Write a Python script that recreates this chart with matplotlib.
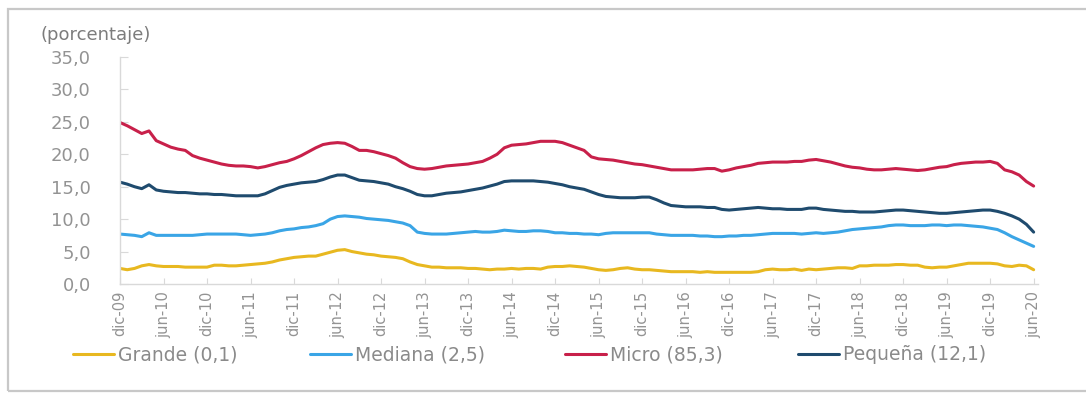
"""
Tasa de morosidad por tamaño de empresa, dic-09 a jun-20 (datos mensuales).
"""

import matplotlib

matplotlib.use("Agg")

import matplotlib.pyplot as plt
import numpy as np
from matplotlib.patches import Rectangle

# --- data (porcentaje), monthly from dic-09 to jun-20 -----------------------
grande = [
    2.4, 2.2, 2.4, 2.8, 3.0, 2.8, 2.7, 2.7, 2.7, 2.6, 2.6, 2.6,
    2.6, 2.9, 2.9, 2.8, 2.8, 2.9, 3.0, 3.1, 3.2, 3.4, 3.7, 3.9,
    4.1, 4.2, 4.3, 4.3, 4.6, 4.9, 5.2, 5.3, 5.0, 4.8, 4.6, 4.5,
    4.3, 4.2, 4.1, 3.9, 3.4, 3.0, 2.8, 2.6, 2.6, 2.5, 2.5, 2.5,
    2.4, 2.4, 2.3, 2.2, 2.3, 2.3, 2.4, 2.3, 2.4, 2.4, 2.3, 2.6,
    2.7, 2.7, 2.8, 2.7, 2.6, 2.4, 2.2, 2.1, 2.2, 2.4, 2.5, 2.3,
    2.2, 2.2, 2.1, 2.0, 1.9, 1.9, 1.9, 1.9, 1.8, 1.9, 1.8, 1.8,
    1.8, 1.8, 1.8, 1.8, 1.9, 2.2, 2.3, 2.2, 2.2, 2.3, 2.1, 2.3,
    2.2, 2.3, 2.4, 2.5, 2.5, 2.4, 2.8, 2.8, 2.9, 2.9, 2.9, 3.0,
    3.0, 2.9, 2.9, 2.6, 2.5, 2.6, 2.6, 2.8, 3.0, 3.2, 3.2, 3.2,
    3.2, 3.1, 2.8, 2.7, 2.9, 2.8, 2.2,
]
mediana = [
    7.7, 7.6, 7.5, 7.3, 7.9, 7.5, 7.5, 7.5, 7.5, 7.5, 7.5, 7.6,
    7.7, 7.7, 7.7, 7.7, 7.7, 7.6, 7.5, 7.6, 7.7, 7.9, 8.2, 8.4,
    8.5, 8.7, 8.8, 9.0, 9.3, 10.0, 10.4, 10.5, 10.4, 10.3, 10.1, 10.0,
    9.9, 9.8, 9.6, 9.4, 9.0, 8.0, 7.8, 7.7, 7.7, 7.7, 7.8, 7.9,
    8.0, 8.1, 8.0, 8.0, 8.1, 8.3, 8.2, 8.1, 8.1, 8.2, 8.2, 8.1,
    7.9, 7.9, 7.8, 7.8, 7.7, 7.7, 7.6, 7.8, 7.9, 7.9, 7.9, 7.9,
    7.9, 7.9, 7.7, 7.6, 7.5, 7.5, 7.5, 7.5, 7.4, 7.4, 7.3, 7.3,
    7.4, 7.4, 7.5, 7.5, 7.6, 7.7, 7.8, 7.8, 7.8, 7.8, 7.7, 7.8,
    7.9, 7.8, 7.9, 8.0, 8.2, 8.4, 8.5, 8.6, 8.7, 8.8, 9.0, 9.1,
    9.1, 9.0, 9.0, 9.0, 9.1, 9.1, 9.0, 9.1, 9.1, 9.0, 8.9, 8.8,
    8.6, 8.4, 7.9, 7.3, 6.8, 6.3, 5.8,
]
micro = [
    24.9, 24.4, 23.8, 23.2, 23.6, 22.1, 21.6, 21.1, 20.8, 20.6, 19.8, 19.4,
    19.1, 18.8, 18.5, 18.3, 18.2, 18.2, 18.1, 17.9, 18.1, 18.4, 18.7, 18.9,
    19.3, 19.8, 20.4, 21.0, 21.5, 21.7, 21.8, 21.7, 21.2, 20.6, 20.6, 20.4,
    20.1, 19.8, 19.4, 18.7, 18.1, 17.8, 17.7, 17.8, 18.0, 18.2, 18.3, 18.4,
    18.5, 18.7, 18.9, 19.4, 20.0, 21.0, 21.4, 21.5, 21.6, 21.8, 22.0, 22.0,
    22.0, 21.8, 21.4, 21.0, 20.6, 19.6, 19.3, 19.2, 19.1, 18.9, 18.7, 18.5,
    18.4, 18.2, 18.0, 17.8, 17.6, 17.6, 17.6, 17.6, 17.7, 17.8, 17.8, 17.4,
    17.6, 17.9, 18.1, 18.3, 18.6, 18.7, 18.8, 18.8, 18.8, 18.9, 18.9, 19.1,
    19.2, 19.0, 18.8, 18.5, 18.2, 18.0, 17.9, 17.7, 17.6, 17.6, 17.7, 17.8,
    17.7, 17.6, 17.5, 17.6, 17.8, 18.0, 18.1, 18.4, 18.6, 18.7, 18.8, 18.8,
    18.9, 18.6, 17.6, 17.3, 16.8, 15.8, 15.1,
]
pequena = [
    15.7, 15.4, 15.0, 14.7, 15.3, 14.5, 14.3, 14.2, 14.1, 14.1, 14.0, 13.9,
    13.9, 13.8, 13.8, 13.7, 13.6, 13.6, 13.6, 13.6, 13.9, 14.4, 14.9, 15.2,
    15.4, 15.6, 15.7, 15.8, 16.1, 16.5, 16.8, 16.8, 16.4, 16.0, 15.9, 15.8,
    15.6, 15.4, 15.0, 14.7, 14.3, 13.8, 13.6, 13.6, 13.8, 14.0, 14.1, 14.2,
    14.4, 14.6, 14.8, 15.1, 15.4, 15.8, 15.9, 15.9, 15.9, 15.9, 15.8, 15.7,
    15.5, 15.3, 15.0, 14.8, 14.6, 14.2, 13.8, 13.5, 13.4, 13.3, 13.3, 13.3,
    13.4, 13.4, 13.0, 12.5, 12.1, 12.0, 11.9, 11.9, 11.9, 11.8, 11.8, 11.5,
    11.4, 11.5, 11.6, 11.7, 11.8, 11.7, 11.6, 11.6, 11.5, 11.5, 11.5, 11.7,
    11.7, 11.5, 11.4, 11.3, 11.2, 11.2, 11.1, 11.1, 11.1, 11.2, 11.3, 11.4,
    11.4, 11.3, 11.2, 11.1, 11.0, 10.9, 10.9, 11.0, 11.1, 11.2, 11.3, 11.4,
    11.4, 11.2, 10.9, 10.5, 10.0, 9.2, 8.0,
]

series_labels = ["Grande (0,1)", "Mediana (2,5)", "Micro (85,3)", "Pequeña (12,1)"]
series_colors = ["#e8b820", "#3aa5e6", "#c8204a", "#1f4b6e"]

tick_labels = [
    "dic-09", "jun-10", "dic-10", "jun-11", "dic-11", "jun-12", "dic-12",
    "jun-13", "dic-13", "jun-14", "dic-14", "jun-15", "dic-15", "jun-16",
    "dic-16", "jun-17", "dic-17", "jun-18", "dic-18", "jun-19", "dic-19",
    "jun-20",
]
y_ticks = [0, 5, 10, 15, 20, 25, 30, 35]

# --- figure ------------------------------------------------------------------
W, H = 1086, 394
fig = plt.figure(figsize=(W / 100, H / 100), dpi=100)
ax = fig.add_axes([120 / W, 1 - 284 / H, (1038 - 120) / W, (284 - 57) / H])

x = np.arange(len(micro))
all_series = [grande, mediana, micro, pequena]
handles = []
for values, label, color in zip(all_series, series_labels, series_colors):
    (h,) = ax.plot(x, values, color=color, linewidth=2.2, label=label,
                   solid_capstyle="round")
    handles.append(h)

ax.set_xlim(0, 126.6)
ax.set_ylim(0, 35)

axis_grey = "#d9d9d9"
label_grey = "#939393"
for side in ("top", "right"):
    ax.spines[side].set_visible(False)
for side in ("left", "bottom"):
    ax.spines[side].set_color(axis_grey)
    ax.spines[side].set_linewidth(1.0)

ax.set_yticks(y_ticks)
ax.set_yticklabels([f"{v:.1f}".replace(".", ",") for v in y_ticks])
ax.set_xticks(np.arange(0, len(micro), 6))
ax.set_xticklabels(tick_labels, rotation=90)
ax.tick_params(axis="y", direction="in", length=6, color=axis_grey,
               labelsize=13, labelcolor=label_grey, pad=21)
ax.tick_params(axis="x", direction="in", length=4, color=axis_grey,
               labelsize=10.5, labelcolor=label_grey, pad=5)

fig.text(40 / W, 1 - 35 / H, "(porcentaje)", fontsize=13, color="#7c7c7c",
         ha="left", va="center")

# one legend per entry, anchored where the reference draws each handle
legend_x = [73, 310, 565, 798]
for h, lx in zip(handles, legend_x):
    fig.legend(handles=[h], loc="center left", bbox_to_anchor=(lx / W, 1 - 355 / H),
               frameon=False, fontsize=13.5, handlelength=2.2, handletextpad=0.2,
               borderpad=0, borderaxespad=0, labelcolor="#8a8a8a")

# card-like frame around the chart
fig.add_artist(Rectangle((8 / W, 3 / H), 1.2, 382 / H, transform=fig.transFigure,
                         fill=False, edgecolor="#c8c8c8", linewidth=1.6))

fig.savefig("out.png", dpi=100)
